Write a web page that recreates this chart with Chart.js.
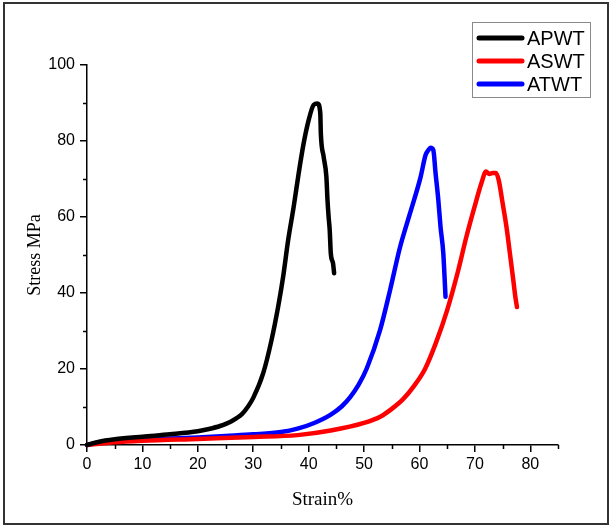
<!DOCTYPE html>
<html>
<head>
<meta charset="utf-8">
<script src="https://cdn.jsdelivr.net/npm/chart.js@4/dist/chart.umd.min.js"></script>
<style>
  html, body { margin: 0; padding: 0; background: #fff; }
  #wrap { width: 609px; height: 526px; position: relative; }
</style>
</head>
<body>
<div id="wrap"><canvas id="chart" width="609" height="526"></canvas></div>
<script>
// tensile curves
var apwtStrain = [0, 2, 5, 10, 15, 20, 22, 24, 26, 28, 29, 30, 31.8, 33.3, 34.5, 35.4, 36.3, 37.3, 38.2, 39.1, 40, 40.9, 41.6, 42.1, 42.2, 42.7, 43.2, 43.4, 43.6, 43.8, 44, 44.4, 44.6];
var apwtStress = [0, 0.8, 1.5, 2.2, 2.8, 3.6, 4.2, 5.0, 6.2, 8.2, 10, 12.4, 18.9, 27.6, 36.4, 44.3, 53.9, 62.7, 71.5, 79.4, 85.5, 89.5, 89.9, 87.3, 82, 75.9, 70.6, 64.5, 60.1, 56.6, 50.4, 47.8, 45.2];

var aswtStrain = [0, 5, 10, 20, 30, 38, 44, 50, 53, 55, 57, 59, 61, 63, 65, 67, 68.5, 70, 71.2, 72, 72.6, 73.2, 73.8, 74.3, 75, 75.7, 76.4, 77, 77.3, 77.6];
var aswtStress = [0, 0.7, 1.1, 1.6, 2.1, 2.6, 3.8, 5.8, 7.5, 9.5, 12, 15.5, 20, 27, 35.5, 46, 55, 63, 69, 72, 71.3, 71.6, 71.6, 69.7, 63.7, 57.4, 49.5, 42.6, 39, 36.3];

var atwtStrain = [0, 2, 5, 10, 15, 20, 25, 30, 35, 38, 41, 44, 46, 47.5, 49, 50.5, 52.9, 54.7, 56.5, 58.3, 60.2, 61.1, 61.6, 62, 62.5, 62.9, 63.4, 63.8, 64.3, 64.5, 64.7];
var atwtStress = [0, 0.6, 1.0, 1.4, 1.7, 2.0, 2.4, 2.8, 3.4, 4.3, 5.8, 8.0, 10.2, 12.6, 15.8, 20.2, 30.3, 40.8, 52.1, 61, 70.5, 76.3, 77.6, 78.2, 77.6, 71.6, 64.5, 57.4, 50.5, 45, 39];

var seriesNames = ['APWT', 'ASWT', 'ATWT'];
var seriesColors = ['#000000', '#ff0000', '#0000ff'];

var xTicks = [0, 10, 20, 30, 40, 50, 60, 70, 80];
var xMinor = [5, 15, 25, 35, 45, 55, 65, 75, 85];
var yTicks = [0, 20, 40, 60, 80, 100];
var yMinor = [10, 30, 50, 70, 90];

function pairs(xs, ys) {
  return xs.map(function (x, i) { return { x: x, y: ys[i] }; });
}

var allData = [pairs(apwtStrain, apwtStress), pairs(aswtStrain, aswtStress), pairs(atwtStrain, atwtStress)];

var extras = {
  id: 'extras',
  afterDraw: function (chart) {
    var ctx = chart.ctx;
    var xs = chart.scales.x, ys = chart.scales.y;
    ctx.save();
    // minor ticks
    ctx.strokeStyle = '#000';
    ctx.lineWidth = 1.5;
    ctx.beginPath();
    xMinor.forEach(function (v) {
      var px = Math.round(xs.getPixelForValue(v)) + 0.5;
      ctx.moveTo(px, xs.top);
      ctx.lineTo(px, xs.top + 4);
    });
    yMinor.forEach(function (v) {
      var py = Math.round(ys.getPixelForValue(v)) + 0.5;
      ctx.moveTo(ys.right, py);
      ctx.lineTo(ys.right - 4, py);
    });
    ctx.stroke();

    // legend box
    ctx.strokeStyle = '#8a8a8a';
    ctx.lineWidth = 1;
    ctx.strokeRect(472.5, 22.5, 118, 75);
    var rows = [38, 61, 84];
    ctx.font = '20px "Liberation Sans", Arial, sans-serif';
    ctx.textBaseline = 'middle';
    ctx.lineCap = 'round';
    chart.data.datasets.forEach(function (ds, i) {
      ctx.strokeStyle = ds.borderColor;
      ctx.lineWidth = 5;
      ctx.beginPath();
      ctx.moveTo(479, rows[i]);
      ctx.lineTo(522, rows[i]);
      ctx.stroke();
      ctx.fillStyle = '#000';
      ctx.fillText(ds.label, 527, rows[i] + 1);
    });

    // outer frame
    ctx.strokeStyle = '#333';
    ctx.lineWidth = 2;
    ctx.strokeRect(4, 3, 604, 521);
    ctx.restore();
  }
};

var ctx = document.getElementById('chart');
var myChart = new Chart(ctx, {
  type: 'scatter',
  data: {
    datasets: allData.map(function (d, i) {
      return {
        label: seriesNames[i],
        data: d,
        showLine: true,
        borderColor: seriesColors[i],
        backgroundColor: seriesColors[i],
        borderWidth: 4.5,
        borderJoinStyle: 'round',
        borderCapStyle: 'round',
        pointRadius: 0,
        cubicInterpolationMode: 'monotone',
        clip: false
      };
    })
  },
  options: {
    responsive: false,
    animation: false,
    layout: { padding: { left: 20, top: 65, right: 51, bottom: 11 } },
    plugins: {
      legend: { display: false },
      tooltip: { enabled: false }
    },
    scales: {
      x: {
        type: 'linear',
        min: 0,
        max: 85,
        afterBuildTicks: function (scale) {
          scale.ticks = xTicks.map(function (v) { return { value: v }; });
        },
        afterFit: function (scale) { scale.height = 70; },
        grid: { drawOnChartArea: false, drawTicks: true, tickLength: 7, color: '#000', lineWidth: 1.5 },
        border: { color: '#000', width: 1.5 },
        ticks: { color: '#000', padding: 3, maxRotation: 0, font: { family: '"Liberation Sans", Arial, sans-serif', size: 16 } },
        title: { display: true, text: 'Strain%', color: '#000', padding: { top: 4, bottom: 4 }, font: { family: '"Liberation Serif", "Times New Roman", serif', size: 19 } }
      },
      y: {
        type: 'linear',
        min: 0,
        max: 100,
        afterBuildTicks: function (scale) {
          scale.ticks = yTicks.map(function (v) { return { value: v }; });
        },
        afterFit: function (scale) { scale.width = 67; },
        grid: { drawOnChartArea: false, drawTicks: true, tickLength: 7, color: '#000', lineWidth: 1.5 },
        border: { color: '#000', width: 1.5 },
        ticks: { color: '#000', padding: 5, font: { family: '"Liberation Sans", Arial, sans-serif', size: 16 } },
        title: { display: true, text: 'Stress MPa', color: '#000', padding: { top: 4, bottom: 4 }, font: { family: '"Liberation Serif", "Times New Roman", serif', size: 18 } }
      }
    }
  },
  plugins: [extras]
});
</script>
</body>
</html>
